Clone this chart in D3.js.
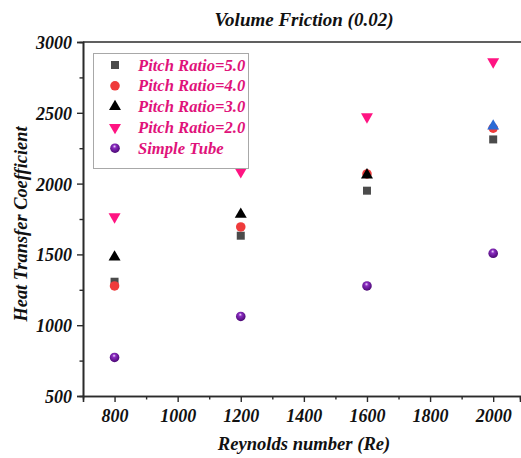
<!DOCTYPE html>
<html>
<head>
<meta charset="utf-8">
<script src="https://cdn.jsdelivr.net/npm/d3@7/dist/d3.min.js"></script>
<style>
  html, body { margin: 0; padding: 0; background: #fff; }
  svg { display: block; }
  text { font-family: "Liberation Serif", "Times New Roman", serif; font-weight: bold; font-style: italic; }
</style>
</head>
<body>
<script>
// Reynolds numbers on the x axis
const reynolds = [800, 1200, 1600, 2000];

// Heat transfer coefficient for each configuration
const pitch5 = [1307, 1632, 1950, 2312];
const pitch4 = [1277, 1694, 2068, 2392];
const pitch3 = [1481, 1783, 2061, 2406];
const pitch2 = [1766, 2084, 2472, 2860];
const simpleTube = [772, 1062, 1277, 1508];

const seriesNames = ["Pitch Ratio=5.0", "Pitch Ratio=4.0", "Pitch Ratio=3.0", "Pitch Ratio=2.0", "Simple Tube"];

// Axis ticks
const xTicks = [800, 1000, 1200, 1400, 1600, 1800, 2000];
const yTicks = [500, 1000, 1500, 2000, 2500, 3000];

const W = 521, H = 458;
const margin = { left: 83, top: 42, right: 0, bottom: 62 };

const svg = d3.select("body").append("svg").attr("width", W).attr("height", H);

const x = d3.scaleLinear().domain([700, 2085]).range([margin.left, W - 1]);
const y = d3.scaleLinear().domain([500, 3000]).range([H - margin.bottom, margin.top]);

const axisColor = "#2b2b2b";
const labelColor = "#e0127a";

// Radial gradient for the sphere-like simple tube markers
const defs = svg.append("defs");
const grad = defs.append("radialGradient").attr("id", "sphere")
  .attr("cx", "45%").attr("cy", "40%").attr("r", "60%")
  .attr("fx", "45%").attr("fy", "30%");
grad.append("stop").attr("offset", "0%").attr("stop-color", "#f2dcff");
grad.append("stop").attr("offset", "30%").attr("stop-color", "#8a2cc0");
grad.append("stop").attr("offset", "100%").attr("stop-color", "#4a0873");

// Axes
const xAxis = d3.axisBottom(x).tickValues(xTicks).tickSize(6).tickPadding(7).tickFormat(d3.format("d"));
const xMinor = d3.axisBottom(x).tickValues(d3.range(900, 2001, 200)).tickSize(3.5).tickFormat("");
const yAxis = d3.axisLeft(y).tickValues(yTicks).tickSize(6).tickPadding(5).tickFormat(d3.format("d"));
const yMinor = d3.axisLeft(y).tickValues(d3.range(750, 3000, 500)).tickSize(3.5).tickFormat("");

function styleAxis(g) {
  g.select(".domain").attr("stroke", axisColor).attr("stroke-width", 1.6);
  g.selectAll(".tick line").attr("stroke", axisColor).attr("stroke-width", 1.4);
  g.selectAll(".tick text").attr("fill", "#111").style("font-size", "18px")
    .style("font-family", "'Liberation Serif', serif").style("font-weight", "bold").style("font-style", "italic");
}

svg.append("g").attr("transform", `translate(0,${y(500)})`).call(xAxis).call(styleAxis);
svg.append("g").attr("transform", `translate(0,${y(500)})`).call(xMinor).call(styleAxis);
const gy = svg.append("g").attr("transform", `translate(${x(700)},0)`).call(yAxis).call(styleAxis);
svg.append("g").attr("transform", `translate(${x(700)},0)`).call(yMinor).call(styleAxis);
gy.selectAll(".tick text").attr("dy", "0.36em");

// Top frame line
svg.append("line").attr("x1", x(700)).attr("x2", W).attr("y1", y(3000)).attr("y2", y(3000))
  .attr("stroke", axisColor).attr("stroke-width", 1.6);

// Marker definitions
const markers = [
  { values: pitch5, type: d3.symbolSquare, size: 64, fill: "#4b4b4b" },
  { values: pitch4, type: d3.symbolCircle, size: 72, fill: "#ef3b3b" },
  { values: pitch3, type: d3.symbolTriangle, size: 62, fill: "#000000" },
  { values: pitch2, type: d3.symbolTriangle, size: 62, fill: "#ff1482", flip: true },
  { values: simpleTube, type: d3.symbolCircle, size: 72, fill: "url(#sphere)" }
];
// The last triangle in the Pitch Ratio=3.0 series is drawn in blue
const pointColor = (mi, i) => (mi === 2 && i === 3) ? "#2a6bd6" : markers[mi].fill;

const plot = svg.append("g");
markers.forEach((m, mi) => {
  plot.selectAll(null).data(m.values).enter().append("path")
    .attr("d", d3.symbol().type(m.type).size(m.size))
    .attr("transform", (d, i) => `translate(${x(reynolds[i])},${y(d)})${m.flip ? " rotate(180)" : ""}`)
    .attr("fill", (d, i) => pointColor(mi, i));
});

// Legend
const legend = svg.append("g");
legend.append("rect").attr("x", 93.5).attr("y", 53.5).attr("width", 155).attr("height", 115)
  .attr("fill", "#fff").attr("stroke", "#a8a8a8").attr("stroke-width", 1);
markers.forEach((m, mi) => {
  const cy = 65 + mi * 20.8;
  legend.append("path")
    .attr("d", d3.symbol().type(m.type).size(m.size))
    .attr("transform", `translate(115,${cy})${m.flip ? " rotate(180)" : ""}`)
    .attr("fill", m.fill);
  legend.append("text").attr("x", 138).attr("y", cy + 5.5)
    .attr("fill", labelColor).style("font-size", "16.6px")
    .text(seriesNames[mi]);
});

// Titles
svg.append("text").attr("x", 304).attr("y", 26).attr("text-anchor", "middle")
  .attr("fill", "#111").style("font-size", "19px").text("Volume Friction (0.02)");
svg.append("text").attr("x", 304).attr("y", 450).attr("text-anchor", "middle")
  .attr("fill", "#111").style("font-size", "18.6px").text("Reynolds number (Re)");
svg.append("text").attr("transform", `translate(27,224) rotate(-90)`).attr("text-anchor", "middle")
  .attr("fill", "#111").style("font-size", "18.4px").text("Heat Transfer Coefficient");
</script>
</body>
</html>
